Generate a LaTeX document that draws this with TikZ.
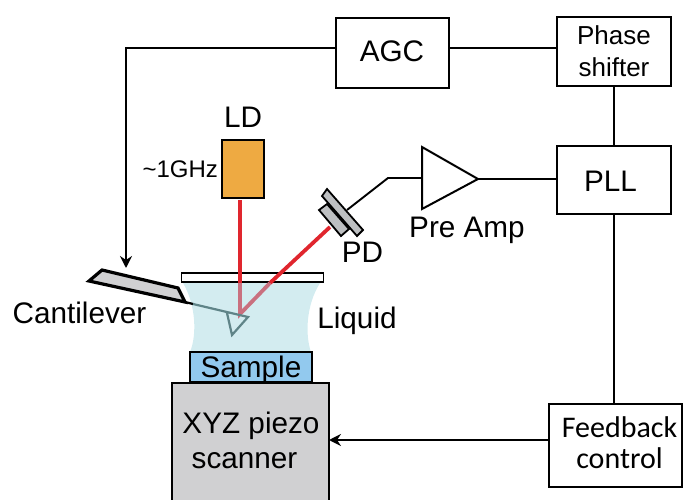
\documentclass[tikz,border=0pt]{standalone}
\usepackage{fontspec}
\setmainfont{Liberation Sans}
\newfontfamily\boxfont{Carlito}
\usetikzlibrary{arrows.meta,positioning}
\definecolor{laser}{HTML}{E0262E}
\definecolor{laserpale}{HTML}{C9707F}
\definecolor{liquid}{HTML}{D3ECF0}
\definecolor{samplefill}{HTML}{92C9EE}
\definecolor{ldfill}{HTML}{EEAA42}
\definecolor{chip}{HTML}{D0D0D2}
\definecolor{pdgray}{HTML}{BDBFC1}
\definecolor{tipline}{HTML}{5F8488}

\begin{document}
\begin{tikzpicture}[x=1pt, y=-1pt, node distance=60pt and 109pt, font=\fontsize{29.7}{34}\selectfont,
  box/.style={draw=black, line width=2pt, fill=white, align=center, inner sep=0pt, outer sep=0pt},
  lbl/.style={inner sep=0pt, outer sep=0pt},
  wire/.style={draw=black, line width=1.9pt},
  arr/.style={-{Stealth[length=12pt, width=12pt, inset=4pt]}, line width=1.9pt, color=black},
  beam/.style={line width=3.8pt, color=laser},
  beampale/.style={line width=3.8pt, color=laserpale}]
\useasboundingbox (0,0) rectangle (683,500);
% control boxes
\node[box, minimum width=113pt, minimum height=70pt] (agc) at (392.5,53) {};
\node[lbl] (agclabel) at (392,51) {AGC};
\node[box, minimum width=114pt, minimum height=69pt, font=\fontsize{26}{32}\selectfont] (phase) at (614,51.5) {Phase\\shifter};
\node[box, minimum width=114pt, minimum height=68pt, below=60pt of phase] (pll) {};
\node[lbl] (plllabel) at (610.5,181.5) {PLL};
\node[box, minimum width=133pt, minimum height=83pt] (feedback) at (615.5,445.5) {};
\node[lbl, align=center, font=\boxfont\fontsize{30}{31}\selectfont] (feedbacklabel) at (619.5,443) {Feedback\\control};
% sample stage
\node[draw=black, line width=2pt, fill=chip, minimum width=157pt, minimum height=122pt, inner sep=0pt, outer sep=0pt] (scanner) at (250.5,444) {};
\node[lbl] (xyz) at (251,426) {XYZ piezo};
\node[lbl] (scan) at (244.5,461) {scanner};
\fill[liquid] (183,283) .. controls (196,305) and (197,335) .. (190,352) -- (311,352) .. controls (305,335) and (306,305) .. (320,283) -- cycle;
\node[draw=black, line width=2pt, fill=samplefill, minimum width=122pt, minimum height=30pt, inner sep=0pt, outer sep=0pt] (sample) at (250.5,367) {};
\node[lbl] (samplelabel) at (251,369.5) {Sample};
\node[draw=black, line width=1.7pt, fill=white, minimum width=142pt, minimum height=9pt, inner sep=0pt, outer sep=0pt] (slide) at (252.5,277.5) {};
% laser path
\node[draw=black, line width=2pt, fill=ldfill, minimum width=42pt, minimum height=58pt, inner sep=0pt, outer sep=0pt] (ld) at (243,169) {};
\node[lbl, above=12pt of ld] (ldlabel) {LD};
\node[lbl, left=4pt of ld, font=\fontsize{24}{26}\selectfont] (ghz) {\textasciitilde1GHz};
\coordinate (spot) at (240,314);
\coordinate (ldout) at (240,200);
\coordinate (ldin) at (240,283);
\coordinate (pdin) at (330,227);
\coordinate (pdglass) at (270,283);
\draw[beam] (ldout) -- (ldin);
\draw[beam] (pdin) -- (pdglass);
\draw[beampale] (ldin) -- (spot) -- (pdglass);
% cantilever
\draw[line width=3.2pt, fill=chip, line join=miter] (89,281) -- (102,270) -- (178,288) -- (185,302) -- cycle;
\draw[line width=2.2pt] (185,302) -- (193,304);
\draw[line width=2.2pt, color=tipline] (193,304) -- (248,317) -- (232,335) -- (227,313);
\node[lbl] (cantilever) at (79.5,312.5) {Cantilever};
\node[lbl] (liquidlabel) at (357,321) {Liquid};
% photodiode
\draw[line width=1.8pt, fill=pdgray] (319,210) -- (327,204) -- (349,229) -- (341,236) -- cycle;
\draw[line width=1.8pt, fill=pdgray] (327,189) -- (363,230) -- (357,236) -- (322,196) -- cycle;
\node[lbl] (pdlabel) at (362.5,252.5) {PD};
\coordinate (pdout) at (347,210);
\coordinate (bend) at (388,178);
% preamplifier
\draw[line width=2pt, fill=white, line join=miter] (422,147) coordinate (ampa) -- (478,179) coordinate (ampout) -- (422,209) -- cycle;
\coordinate (ampin) at (422,178);
\node[lbl] (amplabel) at (467,230.5) {Pre Amp};
% signal lines
\draw[wire] (pdout) -- (bend) -- (ampin);
\draw[wire] (ampout) -- (ampout -| pll.west);
\draw[wire] (phase.south) -- (pll.north);
\draw[wire] (pll.south) -- (pll.south |- feedback.north);
\draw[wire] (agc.east |- 0,48) -- (phase.west |- 0,48);
\coordinate (agcdown) at (126,48);
\coordinate (agcend) at (126,268);
\draw[arr] (agc.west |- agcdown) -- (agcdown) -- (agcend);
\draw[arr] (feedback.west |- 0,440) -- (scanner.east |- 0,440);
\end{tikzpicture}
\end{document}
